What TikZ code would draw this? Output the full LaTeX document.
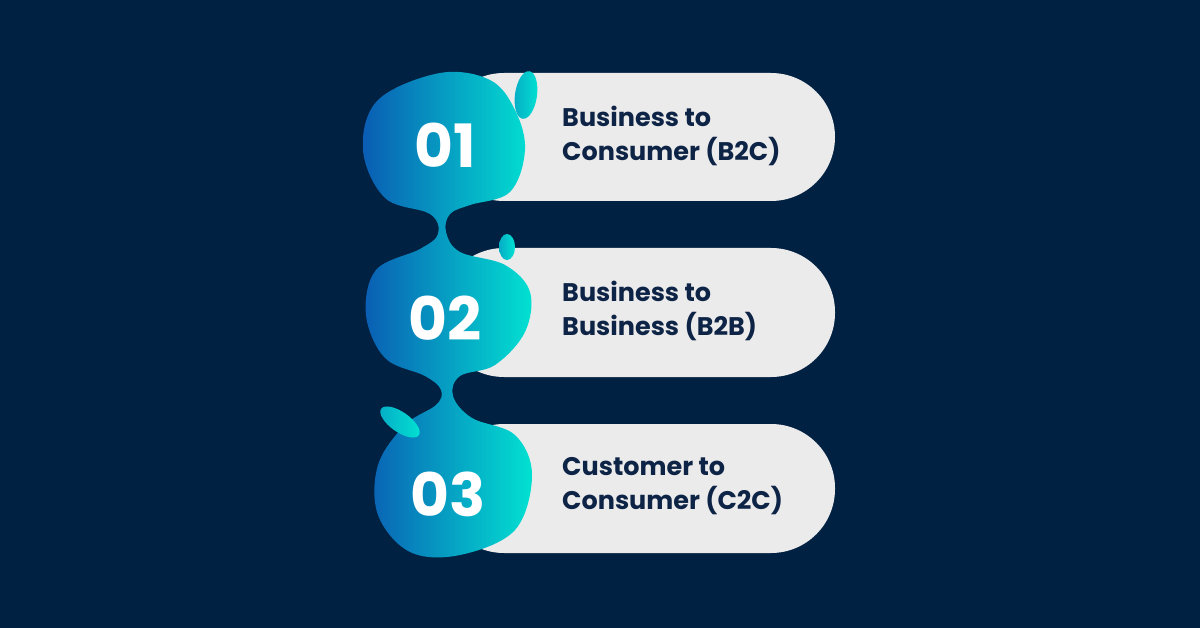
\documentclass[tikz,border=0pt]{standalone}
\usepackage{fontspec}
\setmainfont{Poppins}
\definecolor{bg}{HTML}{012142}
\definecolor{pill}{HTML}{EBEBEB}
\definecolor{gA}{HTML}{0A5CB3}
\definecolor{gB}{HTML}{02E2D2}
\definecolor{txt}{HTML}{0E2446}
\tikzset{
 pillbox/.style={fill=pill,rounded corners=64*0.02cm},
 num/.style={text=white,font=\bfseries\fontsize{34}{34}\selectfont},
 lbl/.style={text=txt,font=\bfseries\fontsize{14.5}{19}\selectfont,align=left,anchor=west},
 drop/.style={left color=gA!40!gB,right color=gB}
}
\begin{document}
\begin{tikzpicture}[x=0.02cm,y=-0.02cm]
\fill[bg] (0,0) rectangle (1200,628);
\useasboundingbox (0,0) rectangle (1200,628);
\fill[pillbox] (440,73) rectangle (835,201);
\fill[pillbox] (440,248) rectangle (835,377);
\fill[pillbox] (440,424) rectangle (835,553);
\shade[left color=gA,right color=gB] plot[smooth cycle,tension=0.6] coordinates{
(440,73)(490,80)(515,110)(525,150)(510,192)(470,205)(450,214)(446,232)(460,252)(505,265)(530,292)(525,332)(495,365)(460,376)(453,396)(472,418)(515,435)(532,475)(515,530)(460,555)(410,552)(378,515)(378,465)(405,425)(436,405)(441,390)(425,376)(385,358)(366,315)(376,270)(420,249)(438,234)(430,214)(385,198)(363,150)(378,100)};
\shade[drop,rotate around={-8:(526,95)}] (526,95) ellipse (11 and 24);
\shade[drop] (507,247) ellipse (8 and 13);
\shade[drop,rotate around={-35:(400,422)}] (400,422) ellipse (23 and 10);
\node[num] (n1) at (445,145) {01};
\node[num] (n2) at (445,318) {02};
\node[num] (n3) at (448,494) {03};
\node[lbl] (l1) at (556,136) {Business to\\Consumer (B2C)};
\node[lbl] (l2) at (556,311) {Business to\\Business (B2B)};
\node[lbl] (l3) at (556,486) {Customer to\\Consumer (C2C)};
\end{tikzpicture}
\end{document}
